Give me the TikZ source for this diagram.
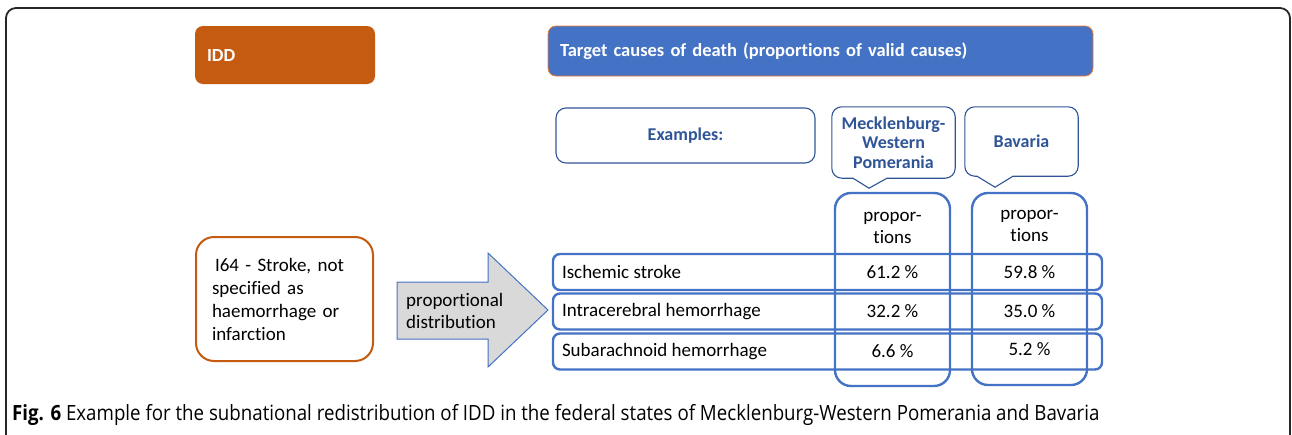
\documentclass[tikz,border=0pt]{standalone}
\usepackage{fontspec}
\setmainfont{Carlito}[Ligatures=NoCommon]
\newfontfamily\capfont[FakeStretch=0.89]{Open Sans}
\definecolor{iddorange}{HTML}{C55A11}
\definecolor{tgtblue}{HTML}{4472C4}
\definecolor{lblblue}{HTML}{2F5597}
\definecolor{brdorange}{HTML}{ED7D31}
\definecolor{arrowgray}{HTML}{D9D9D9}

\begin{document}
\begin{tikzpicture}
      [x=1pt, y=-1pt,
        every node/.style={font=\fontsize{19}{22}\selectfont, inner sep=0pt},
        hdr/.style={rounded corners=8pt, text=white, align=left, inner xsep=12pt,
          font=\fontsize{18.5}{22}\selectfont\bfseries},
        lblbox/.style={draw=lblblue, line width=1.1pt, rounded corners=10pt},
        lbl/.style={text=lblblue, align=center, font=\fontsize{18}{19.5}\selectfont\bfseries},
        callout/.style={draw=lblblue, line width=1.1pt},
        col/.style={draw=tgtblue, line width=2.4pt, rounded corners=16pt,
          minimum width=115pt, minimum height=193pt},
        row/.style={draw=tgtblue, line width=2.4pt, rounded corners=7pt,
          minimum width=549pt, minimum height=36pt},
        distarrow/.style={draw=tgtblue, line width=1pt, fill=arrowgray}]
      \useasboundingbox (0,0) rectangle (1292,434);
      % frame, open at the bottom
      \draw[line width=1.8pt, draw=black!85, rounded corners=10pt]
        (6,450) -- (6,8) -- (1290,8) -- (1290,450);

      % headers
      \node[hdr, fill=iddorange, text width=156pt, minimum height=58pt] (idd) at (285,55) {IDD};
      \node[hdr, fill=tgtblue, draw=brdorange, line width=0.8pt, text width=521pt,
        minimum height=50pt] (target) at (820.5,51)
        {Target causes of death (proportions of valid causes)};

      % examples and states
      \node[lblbox, lbl, minimum width=259pt, minimum height=55pt] (examples) at (685.5,135.5) {Examples:};
      \node[lbl, minimum width=123pt, minimum height=71pt] (meck) at (893.5,142.5)
        {Mecklenburg-\\Western\\Pomerania};
      \node[lbl, minimum width=113pt, minimum height=69pt] (bav) at (1021.5,141.5) {Bavaria};
      \draw[callout] ([xshift=-24.5,yshift=-10]meck.south) -- ([xshift=-6.5]meck.south)
        {[rounded corners=10pt] -- (meck.south east) -- (meck.north east)
        -- (meck.north west) -- (meck.south west)} -- ([xshift=-40.5]meck.south) -- cycle;
      \draw[callout] ([xshift=-26.5,yshift=-11]bav.south) -- ([xshift=-8.5]bav.south)
        {[rounded corners=10pt] -- (bav.south east) -- (bav.north east)
        -- (bav.north west) -- (bav.south west)} -- ([xshift=-44.5]bav.south) -- cycle;

      % proportion columns
      \node[col] (mcol) at (892.5,289.5) {};
      \node[col, minimum height=192pt] (bcol) at (1029.5,289) {};
      \node[align=center] (mhead) at (892.5,228) {propor-\\tions};
      \node[align=center] (bhead) at (1029.5,226) {propor-\\tions};

      % target causes
      \node[row] (r1) at (827.5,272) {};
      \node[row] (r2) at (827.5,311.5) {};
      \node[row] (r3) at (827.5,351.5) {};
      \node[anchor=west] (ischemic) at ([xshift=10]r1.west) {Ischemic stroke};
      \node[anchor=west] (intra) at ([xshift=10]r2.west) {Intracerebral hemorrhage};
      \node[anchor=west] (subarach) at ([xshift=10]r3.west) {Subarachnoid hemorrhage};
      \node (m1) at (mcol |- r1) {61.2 \%};
      \node (m2) at (mcol |- r2) {32.2 \%};
      \node (m3) at (mcol |- r3) {6.6 \%};
      \node (b1) at (bcol |- r1) {59.8 \%};
      \node (b2) at (bcol |- r2) {35.0 \%};
      \node (b3) at ([yshift=2]bcol |- r3) {5.2 \%};

      % ill-defined code and distribution arrow
      \node[draw=iddorange, line width=2pt, rounded corners=18pt, minimum width=177pt,
        minimum height=124pt, text width=145pt, align=left, inner xsep=16pt,
        font=\fontsize{19}{23}\selectfont] (stroke) at (284.5,299)
        {\hspace{3pt}I64 - Stroke, not\\specified as\\haemorrhage or\\infarction};
      \draw[distarrow] (397,282) -- (488,282) -- (488,253) -- (548,310)
        -- (488,367) -- (488,339) -- (397,339) -- cycle;
      \node[align=left, anchor=west] (distr) at (406,311) {proportional\\distribution};

      % caption
      \node[anchor=base west, font=\capfont\fontsize{21}{23}\selectfont] (caption) at (12,420)
        {\textbf{Fig. 6} Example for the subnational redistribution of IDD in the federal
        states of Mecklenburg-Western Pomerania and Bavaria};
    \end{tikzpicture}
\end{document}
